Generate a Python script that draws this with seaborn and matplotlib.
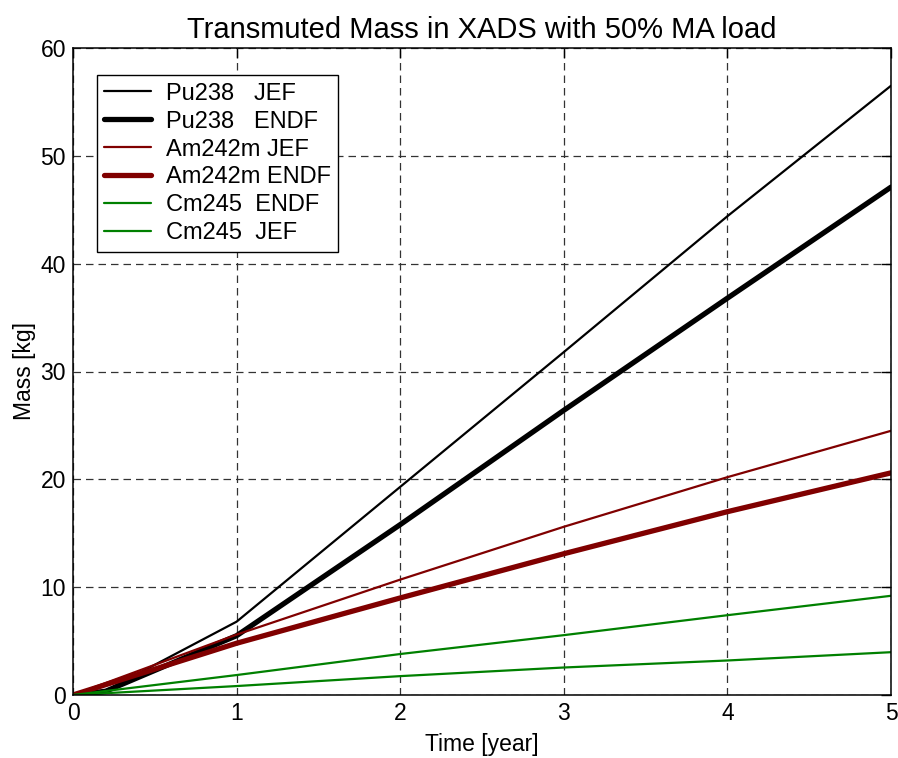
import numpy as np
import pandas as pd
import matplotlib
matplotlib.use("Agg")
import matplotlib.pyplot as plt
import seaborn as sns

# ---- data ----
t_pu = [0, 0.2, 1, 2, 3, 4, 5]
pu238_jef = [0, 0.4, 6.8, 19.3, 31.8, 44.4, 56.5]
pu238_endf = [0, 0.35, 5.5, 15.8, 26.4, 36.8, 47.1]

t = [0, 1, 2, 3, 4, 5]
am242m_jef = [0, 5.6, 10.7, 15.6, 20.2, 24.5]
am242m_endf = [0, 4.8, 9.0, 13.1, 17.0, 20.6]
cm245_endf = [0, 1.85, 3.8, 5.55, 7.4, 9.2]
cm245_jef = [0, 0.83, 1.75, 2.55, 3.2, 3.97]

labels = ["Pu238   JEF", "Pu238   ENDF", "Am242m JEF", "Am242m ENDF",
          "Cm245  ENDF", "Cm245  JEF"]
xticks = [0, 1, 2, 3, 4, 5]
yticks = [0, 10, 20, 30, 40, 50, 60]

sns.set_style("white")
plt.rcParams['font.family'] = ['Liberation Sans', 'DejaVu Sans']
plt.rcParams['text.color'] = 'black'
plt.rcParams['axes.labelcolor'] = 'black'

fig = plt.figure(figsize=(8.98, 7.58), dpi=100)
ax = fig.add_axes([73/898, 1-695/758, (891-73)/898, (695-48)/758])

series = [
    (t_pu, pu238_jef, labels[0], "black", 1.6),
    (t_pu, pu238_endf, labels[1], "black", 3.8),
    (t, am242m_jef, labels[2], "#800000", 1.6),
    (t, am242m_endf, labels[3], "#800000", 3.8),
    (t, cm245_endf, labels[4], "#008000", 1.6),
    (t, cm245_jef, labels[5], "#008000", 1.6),
]
for x, y, lab, c, lw in series:
    sns.lineplot(x=x, y=y, ax=ax, color=c, linewidth=lw, label=lab,
                 estimator=None, sort=False)

ax.set_xlim(0, 5)
ax.set_ylim(0, 60)
ax.set_xticks(xticks)
ax.set_yticks(yticks)
ax.tick_params(direction='in', length=7, width=1, labelsize=16.5,
               top=True, right=True, colors='black', labelcolor='black', pad=5)
for s in ax.spines.values():
    s.set_visible(True)
    s.set_color('black')
    s.set_linewidth(1.1)
ax.grid(True, color='#333333', linestyle=(0, (6, 4)), linewidth=0.9)
ax.set_axisbelow(True)

ax.set_title("Transmuted Mass in XADS with 50% MA load", fontsize=21, pad=7,
             color='black')
ax.set_xlabel("Time [year]", fontsize=16.5, labelpad=6)
ax.set_ylabel("Mass [kg]", fontsize=16.5, labelpad=3)

leg = ax.legend(loc='upper left', bbox_to_anchor=(0.029, 0.958),
                fontsize=17, frameon=True, fancybox=False,
                edgecolor='black', framealpha=1, handlelength=2.0,
                handletextpad=0.6, labelspacing=0.25, borderpad=0.32,
                borderaxespad=0)
leg.get_frame().set_linewidth(1.0)
for txt in leg.get_texts():
    txt.set_color('black')

fig.savefig("out.png", dpi=100)
